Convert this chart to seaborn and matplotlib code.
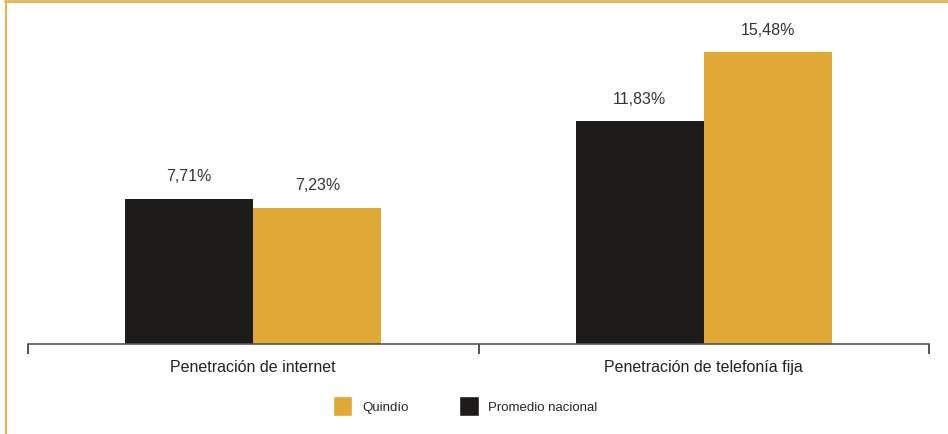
import matplotlib
matplotlib.use("Agg")
import matplotlib.pyplot as plt
import seaborn as sns
import pandas as pd
from matplotlib.lines import Line2D
from matplotlib.patches import Patch

categories = ["Penetración de internet", "Penetración de telefonía fija"]
series_names = ["Promedio nacional", "Quindío"]
promedio_nacional = [7.71, 11.83]
quindio = [7.23, 15.48]

colors = {"Promedio nacional": "#1E1C1A", "Quindío": "#E0A936"}

rows = []
for c, v in zip(categories, promedio_nacional):
    rows.append({"cat": c, "serie": "Promedio nacional", "val": v})
for c, v in zip(categories, quindio):
    rows.append({"cat": c, "serie": "Quindío", "val": v})
df = pd.DataFrame(rows)

sns.set_theme(style="white")
plt.rcParams["font.family"] = ["Liberation Sans", "DejaVu Sans"]

fig = plt.figure(figsize=(9.48, 4.35), dpi=100)
ax = fig.add_axes([28 / 948, 1 - 345 / 435, (929 - 28) / 948, 335 / 435])

sns.barplot(data=df, x="cat", y="val", hue="serie", hue_order=series_names,
            order=categories, palette=colors, width=0.569, saturation=1,
            edgecolor="none", linewidth=0, legend=False, ax=ax)

for cont in ax.containers:
    ax.bar_label(cont, labels=[f"{v:.2f}%".replace(".", ",") for v in cont.datavalues],
                 padding=11, fontsize=11.5, color="#333333")

ax.set_xlim(-0.5, 1.5)
ax.set_ylim(0, 335 / 18.86)
ax.set_xlabel("")
ax.set_ylabel("")
ax.set_yticks([])
for s in ["top", "right", "left"]:
    ax.spines[s].set_visible(False)
ax.spines["bottom"].set_color("#555555")
ax.spines["bottom"].set_linewidth(1.2)
ax.set_xticks([0, 1])
ax.set_xticklabels(categories, fontsize=11.5, color="#222222")
ax.set_xticks([-0.5, 0.5, 1.5], minor=True)
ax.tick_params(axis="x", which="major", length=0, pad=11)
ax.tick_params(axis="x", which="minor", length=7, width=1.2, color="#333333", bottom=True, direction="out")

handles = [Patch(facecolor=colors["Quindío"], label="Quindío"),
           Patch(facecolor=colors["Promedio nacional"], label="Promedio nacional")]
fig.legend(handles=handles, loc="center", bbox_to_anchor=(465.5 / 948, 1 - 407 / 435),
           ncol=2, frameon=False, fontsize=9.5, handlelength=1.45, handleheight=1.9,
           columnspacing=3.85, handletextpad=0.75)

border = "#E8B352"
fig.add_artist(Line2D([5 / 948, 1], [1 - 1.5 / 435, 1 - 1.5 / 435], color=border, lw=2, transform=fig.transFigure))
fig.add_artist(Line2D([5.5 / 948, 5.5 / 948], [0, 1 - 1.5 / 435], color=border, lw=1.5, transform=fig.transFigure))

fig.savefig("out.png", dpi=100)
